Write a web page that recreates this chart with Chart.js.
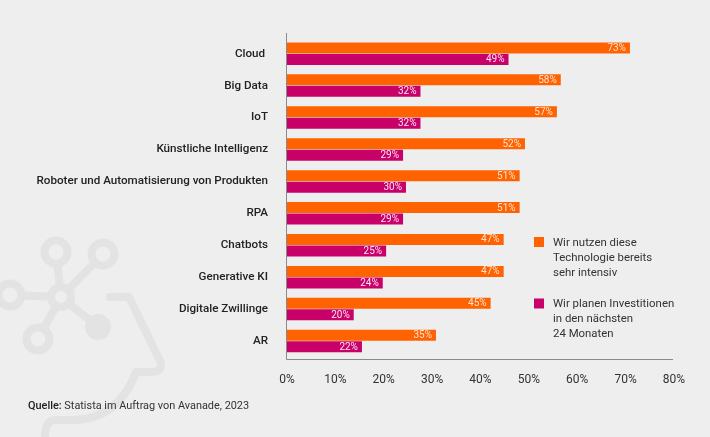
<!DOCTYPE html>
<html lang="de">
<head>
<meta charset="utf-8">
<title>Technologien</title>
<script src="https://cdn.jsdelivr.net/npm/chart.js@4/dist/chart.umd.min.js"></script>
<style>
  html, body { margin: 0; padding: 0; background: #eeeeee; }
  canvas { display: block; }
</style>
</head>
<body>
<canvas id="chart" width="710" height="437"></canvas>
<script>
// ── DATA ───────────────────────────────────────
const categories = ['Cloud ', 'Big Data', 'IoT', 'Künstliche Intelligenz',
  'Roboter und Automatisierung von Produkten', 'RPA', 'Chatbots', 'Generative KI',
  'Digitale Zwillinge', 'AR'];

// bar lengths as drawn in the picture (they run a little short of the printed numbers)
const usedBars    = [71.1, 56.8, 56.0, 49.4, 48.3, 48.3, 45.0, 45.0, 42.3, 31.0];
const plannedBars = [46.0, 27.8, 27.8, 24.2, 24.8, 24.2, 20.7, 20.0, 14.0, 15.7];

// numbers printed on the bars
const usedLabels    = [73, 58, 57, 52, 51, 51, 47, 47, 45, 35];
const plannedLabels = [49, 32, 32, 29, 30, 29, 25, 24, 20, 22];

const usedName    = ['Wir nutzen diese', 'Technologie bereits', 'sehr intensiv'];
const plannedName = ['Wir planen Investitionen', 'in den nächsten', '24 Monaten'];
const xTicks = [0, 10, 20, 30, 40, 50, 60, 70, 80];

const ORANGE = '#ff6200', PURPLE = '#c8006a', FONT = 'Roboto, sans-serif';

// ── WATERMARK ──────────────────────────────────
const watermark = {
  id: 'watermark',
  beforeDraw(chart) {
    const { ctx } = chart;
    ctx.save();
    ctx.strokeStyle = '#e3e3e3';
    ctx.fillStyle = '#e3e3e3';
    ctx.lineCap = 'round';
    ctx.lineJoin = 'round';

    // spokes
    ctx.lineWidth = 8;
    [[56, 252], [103, 254], [10, 295], [38, 339], [98, 327]].forEach(([x, y]) => {
      ctx.beginPath(); ctx.moveTo(61, 297); ctx.lineTo(x, y); ctx.stroke();
    });
    // ring nodes
    [[56, 252, 11.5], [103, 254, 11.5], [10, 295, 11.5], [38, 339, 11.5], [61, 297, 10]].forEach(([x, y, r]) => {
      ctx.beginPath();
      ctx.arc(x, y, r, 0, Math.PI * 2);
      ctx.fillStyle = '#eeeeee';
      ctx.fill();
      ctx.lineWidth = 8;
      ctx.stroke();
    });
    // solid node
    ctx.fillStyle = '#e3e3e3';
    ctx.beginPath(); ctx.arc(98, 327, 13, 0, Math.PI * 2); ctx.fill();

    // head outline
    ctx.lineWidth = 8;
    ctx.beginPath();
    ctx.moveTo(110, 297);
    ctx.lineTo(129, 297);
    ctx.lineTo(160, 361);
    ctx.quadraticCurveTo(164, 372, 150, 372);
    ctx.lineTo(136, 372);
    ctx.quadraticCurveTo(118, 420, 72, 420);
    ctx.lineTo(56, 420);
    ctx.quadraticCurveTo(45, 420, 45, 437);
    ctx.stroke();
    ctx.restore();
  }
};

// ── AXIS LINES, BAR NUMBERS, LEGEND, SOURCE ────
const overlay = {
  id: 'overlay',
  afterDatasetsDraw(chart) {
    const { ctx, chartArea: { left, right } } = chart;
    ctx.save();

    // axis lines reach past the category band
    ctx.strokeStyle = '#8a8a8a';
    ctx.lineWidth = 1;
    ctx.beginPath();
    ctx.moveTo(left + 0.5, 33);
    ctx.lineTo(left + 0.5, 359.5);
    ctx.lineTo(right, 359.5);
    ctx.stroke();

    // numbers on bars
    ctx.font = '10px ' + FONT;
    ctx.textAlign = 'right';
    ctx.textBaseline = 'middle';
    [usedLabels, plannedLabels].forEach((labels, i) => {
      ctx.fillStyle = i === 0 ? '#ffe3d0' : '#ffe3f2';
      chart.getDatasetMeta(i).data.forEach((bar, j) => {
        ctx.fillText(labels[j] + '%', bar.x - 4, bar.y + 0.5);
      });
    });

    // legend
    ctx.textAlign = 'left';
    ctx.font = '11.4px ' + FONT;
    [[usedName, ORANGE, 237], [plannedName, PURPLE, 298.5]].forEach(([lines, color, y]) => {
      ctx.fillStyle = color;
      ctx.fillRect(534, y, 10, 10);
      ctx.fillStyle = '#333333';
      lines.forEach((line, i) => ctx.fillText(line, 553, y + 6 + i * 15));
    });

    // source
    ctx.fillStyle = '#222222';
    ctx.font = '500 10.9px ' + FONT;
    ctx.fillText('Quelle:', 28, 406.5);
    const w = ctx.measureText('Quelle: ').width;
    ctx.fillStyle = '#333333';
    ctx.font = '10.9px ' + FONT;
    ctx.fillText('Statista im Auftrag von Avanade, 2023', 28 + w, 406.5);
    ctx.restore();
  }
};

// ── CHART ──────────────────────────────────────
new Chart(document.getElementById('chart'), {
  type: 'bar',
  data: {
    labels: categories,
    datasets: [
      { label: usedName.join(' '), data: usedBars, backgroundColor: ORANGE },
      { label: plannedName.join(' '), data: plannedBars, backgroundColor: PURPLE }
    ]
  },
  options: {
    indexAxis: 'y',
    responsive: false,
    animation: false,
    layout: { padding: { top: 37.7, right: 37, left: 0, bottom: 0 } },
    categoryPercentage: 0.72,
    barPercentage: 0.956,
    plugins: { legend: { display: false }, tooltip: { enabled: false } },
    scales: {
      x: {
        min: 0, max: 80,
        afterBuildTicks(scale) { scale.ticks = xTicks.map(value => ({ value })); },
        afterFit(scale) { scale.height = 80; },
        grid: { display: false },
        border: { display: false },
        ticks: {
          padding: 8,
          labelOffset: 1,
          maxRotation: 0,
          color: '#333333',
          font: { family: FONT, size: 12 },
          callback: v => v + '%'
        }
      },
      y: {
        afterFit(scale) { scale.width = 286; },
        grid: { display: false },
        border: { display: false },
        ticks: {
          padding: 10,
          autoSkip: false,
          color: '#222222',
          font: { family: FONT, size: 11.65, weight: '500' }
        }
      }
    }
  },
  plugins: [watermark, overlay]
});
</script>
</body>
</html>
